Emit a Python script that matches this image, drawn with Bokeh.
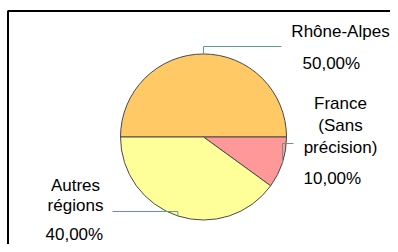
import math
from bokeh.plotting import figure
from bokeh.models import Range1d, ColumnDataSource
from bokeh.core.properties import value
from bokeh.embed import file_html
from bokeh.resources import INLINE

# ---- data ----
categories = ["Rhône-Alpes", "France (Sans précision)", "Autres régions"]
name_lines = [["Rhône-Alpes"], ["France", "(Sans", "précision)"], ["Autres", "régions"]]
shares = [50.0, 10.0, 40.0]
colors = ["#FFC966", "#FF9999", "#FFFF99"]

# ---- layout (picture pixel coordinates, y downward) ----
FIG_W, FIG_H = 390, 244
def Y(py):
    return FIG_H - py

CX, CY, R = 203.0, 136.5, 83.0
# per slice: name anchor x, first baseline, line height, align ; pct x, baseline, align
name_pos = [(340, 31, 22, "center"), (340, 103, 22, "center"), (75, 184.5, 20.5, "center")]
pct_pos = [(302, 63, "left"), (303, 178, "left"), (45, 234, "left")]
# leader elbows: (elbow y, end x)
leader_elbow = [(46, 281), (143, 293), (211, 112)]

FONT = value("Liberation Sans")
FS = "17px"

p = figure(width=FIG_W, height=FIG_H, x_range=Range1d(0, FIG_W), y_range=Range1d(0, FIG_H),
           output_backend="svg", toolbar_location=None, min_border=0)
p.axis.visible = False
p.grid.visible = False
p.outline_line_color = None
p.background_fill_color = "white"
p.border_fill_color = "white"

# slice angles: start at left (pi), go clockwise
total = sum(shares)
bounds = [math.pi]
for s in shares:
    bounds.append(bounds[-1] - 2 * math.pi * s / total)
starts = [bounds[i + 1] for i in range(len(shares))]
ends = [bounds[i] for i in range(len(shares))]

src = ColumnDataSource(dict(x=[CX] * 3, y=[Y(CY)] * 3, start=starts, end=ends,
                            color=colors, cat=categories))
p.wedge(x="x", y="y", radius=R, start_angle="start", end_angle="end",
        fill_color="color", line_color="#4a4a4a", line_width=1, source=src)

# leader lines
for i in range(3):
    m = (bounds[i] + bounds[i + 1]) / 2
    sx = CX + R * math.cos(m)
    sy = Y(CY) + R * math.sin(m)
    ey, ex = leader_elbow[i]
    p.line([sx, sx, ex], [sy, Y(ey), Y(ey)], line_color="#5E9B94", line_width=1)

# labels
tx, ty, tt, ta = [], [], [], []
for i in range(3):
    nx, nb, lh, al = name_pos[i]
    for k, line in enumerate(name_lines[i]):
        tx.append(nx); ty.append(Y(nb + k * lh)); tt.append(line); ta.append(al)
    pxx, pb, pal = pct_pos[i]
    tx.append(pxx); ty.append(Y(pb))
    tt.append(("%.2f%%" % shares[i]).replace(".", ",")); ta.append(pal)

tsrc = ColumnDataSource(dict(x=tx, y=ty, t=tt, a=ta))
p.text(x="x", y="y", text="t", text_align="a", text_baseline="alphabetic",
       text_font=FONT, text_font_size=FS, text_color="black", source=tsrc)

# frame (top and left edges visible)
p.line([7, FIG_W], [Y(10.5), Y(10.5)], line_color="black", line_width=2)
p.line([7.5, 7.5], [Y(10.5), 0], line_color="black", line_width=2)

open("out.html", "w").write(file_html(p, INLINE))
